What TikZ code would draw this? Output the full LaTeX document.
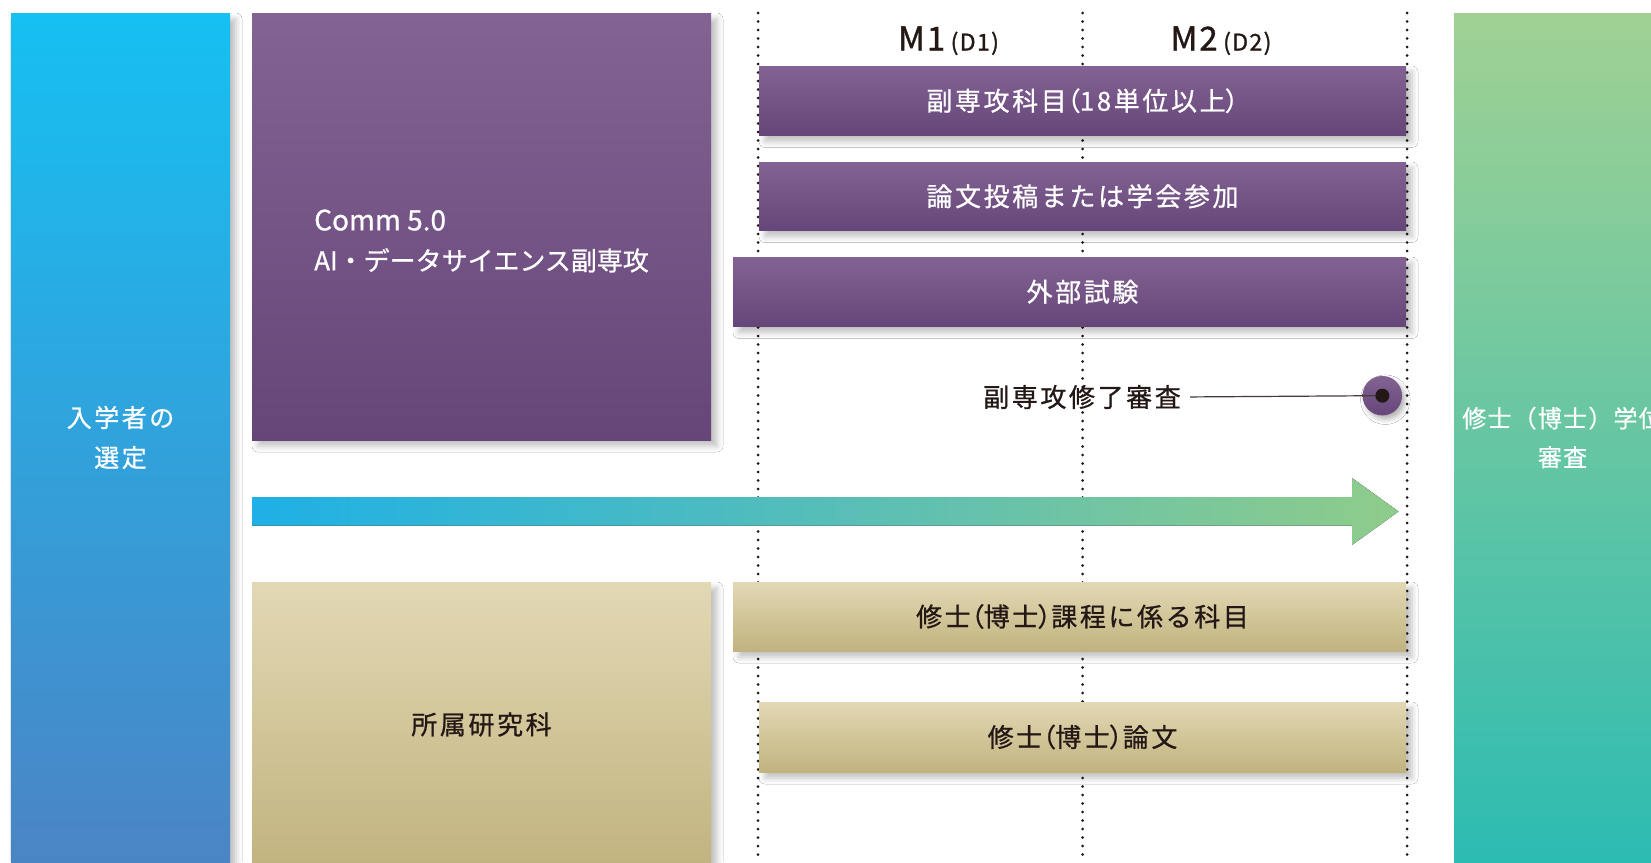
\documentclass[tikz,border=0pt]{standalone}
\usepackage{fontspec}
\usetikzlibrary{shadows.blur}
\newfontfamily\jp[FakeBold=0.8]{Noto Sans CJK JP}
\newfontfamily\jpt[LetterSpace=10,FakeBold=0.8]{Noto Sans CJK JP}
\newfontfamily\jpm[LetterSpace=6,FakeBold=1.2]{Noto Sans CJK JP}
\newfontfamily\jpg[LetterSpace=5,FakeBold=0.5]{Noto Sans CJK JP}
\newfontfamily\jpp[LetterSpace=10,FakeBold=0.8,RawFeature=+palt]{Noto Sans CJK JP}
\newcommand\lpar{{\jpp （}}
\newcommand\rpar{{\jpp ）}}
\definecolor{bluetop}{RGB}{22,192,242}
\definecolor{bluebot}{RGB}{76,131,196}
\definecolor{ptop}{RGB}{131,99,148}
\definecolor{pbot}{RGB}{102,70,120}
\definecolor{ttop}{RGB}{226,216,180}
\definecolor{tbot}{RGB}{193,179,127}
\definecolor{gtop}{RGB}{160,209,147}
\definecolor{gbot}{RGB}{42,187,179}
\definecolor{arrL}{RGB}{30,176,230}
\definecolor{arrR}{RGB}{143,204,138}
\definecolor{ink}{RGB}{35,24,21}
\begin{document}
\begin{tikzpicture}[x=1pt,y=-1pt,
  softshadow/.style={blur shadow={shadow xshift=6pt,shadow yshift=-6pt,shadow blur radius=6pt,shadow opacity=25}},
  box/.style={rectangle, inner sep=0pt, outer sep=0pt, anchor=north west, softshadow},
  pbox/.style={box, top color=ptop, bottom color=pbot},
  tbox/.style={box, top color=ttop, bottom color=tbot},
  wtext/.style={text=white, font=\jpt\fontsize{26}{30}\selectfont, inner sep=0pt},
  dtext/.style={text=ink, font=\jpt\fontsize{26}{30}\selectfont, inner sep=0pt},
  yeartext/.style={anchor=base, inner sep=0pt, text=ink, font=\jpm\fontsize{33}{33}\selectfont},
  dotline/.style={line width=3pt, line cap=round, dash pattern=on 0pt off 8.5pt, draw=ink},
]
\useasboundingbox[fill=white] (0,0) rectangle (1651,862);

% timeline grid
\coordinate (g1t) at (758,13);   \coordinate (g1b) at (758,862);
\coordinate (mid) at (1082.5,13); \coordinate (g2b) at (1082.5,862);
\coordinate (g3t) at (1407,13);  \coordinate (g3b) at (1407,862);
\draw[dotline] (g1t) -- (g1b);
\draw[dotline] (mid) -- (g2b);
\draw[dotline] (g3t) -- (g3b);

% side columns
\node[box, top color=bluetop, bottom color=bluebot, minimum width=219pt, minimum height=870pt] (sel) at (11,13) {};
\node[text=white, font=\jpt\fontsize{25}{40}\selectfont, align=center, inner sep=0pt] (selt) at (sel.center |- 0,437.5) {入学者の\\選定};
\node[box, top color=gtop, bottom color=gbot, minimum width=218pt, minimum height=870pt] (deg) at (1454,13) {};
\node[text=white, font=\jpg\fontsize{24}{39}\selectfont, align=center, inner sep=0pt] (degt) at (1562.5,437.5) {修士（博士）学位\\審査};

% minor block
\node[pbox, minimum width=459pt, minimum height=427pt] (minor) at (252,13) {};
\node[text=white, font=\jp\fontsize{26}{40}\selectfont, align=left, inner sep=0pt, anchor=west] (minort) at (314,241) {{\fontsize{28}{40}\selectfont Comm 5.0}\\AI・データサイエンス副専攻};

% year labels
\node[yeartext] (m1) at (948.5,50.5) {M1\,{\fontsize{23}{23}\selectfont(D1)}};
\node[yeartext] (m2) at (1221,50.5) {M2\,{\fontsize{23}{23}\selectfont(D2)}};

% purple bars
\node[pbox, minimum width=647pt, minimum height=69.5pt] (b1) at (759,66) {};
\node[wtext] (b1t) at (b1.center -| mid) {副専攻科目\lpar 18単位以上\rpar};
\node[pbox, minimum width=647pt, minimum height=68.5pt] (b2) at (759,162) {};
\node[wtext] (b2t) at (b2.center -| mid) {論文投稿または学会参加};
\node[pbox, minimum width=673pt, minimum height=69.5pt] (b3) at (733,257) {};
\node[wtext] (b3t) at (b3.center -| mid) {外部試験};

% completion review
\node[dtext] (rev) at (1082,397) {副専攻修了審査};
\node[circle, inner sep=0pt, minimum size=39.5pt, top color=ptop, bottom color=pbot, blur shadow={shadow xshift=3pt,shadow yshift=-4pt,shadow blur radius=5pt,shadow opacity=30}] (endc) at (1382.3,395.7) {};
\node[circle, inner sep=0pt, minimum size=14pt, fill=ink] (dot) at (endc.center) {};
\draw[line width=1.2pt, draw=ink!85, shorten <=9pt] (rev.east) -- (dot.west);

% timeline arrow
\fill[left color=arrL, right color=arrR] (252,497) -- (1352,497) -- (1352,478) -- (1398.5,511.5) -- (1352,545) -- (1352,525.5) -- (252,525.5) -- cycle;

% home school
\node[tbox, minimum width=459pt, minimum height=290pt] (home) at (252,582) {};
\node[dtext] (homet) at (481.5,724.5) {所属研究科};
\node[tbox, minimum width=673pt, minimum height=69pt] (t1) at (733,582) {};
\node[dtext] (t1t) at (t1.center -| mid) {修士\lpar 博士\rpar 課程に係る科目};
\node[tbox, minimum width=647pt, minimum height=70pt] (t2) at (759,702) {};
\node[dtext] (t2t) at (t2.center -| mid) {修士\lpar 博士\rpar 論文};
\end{tikzpicture}
\end{document}
